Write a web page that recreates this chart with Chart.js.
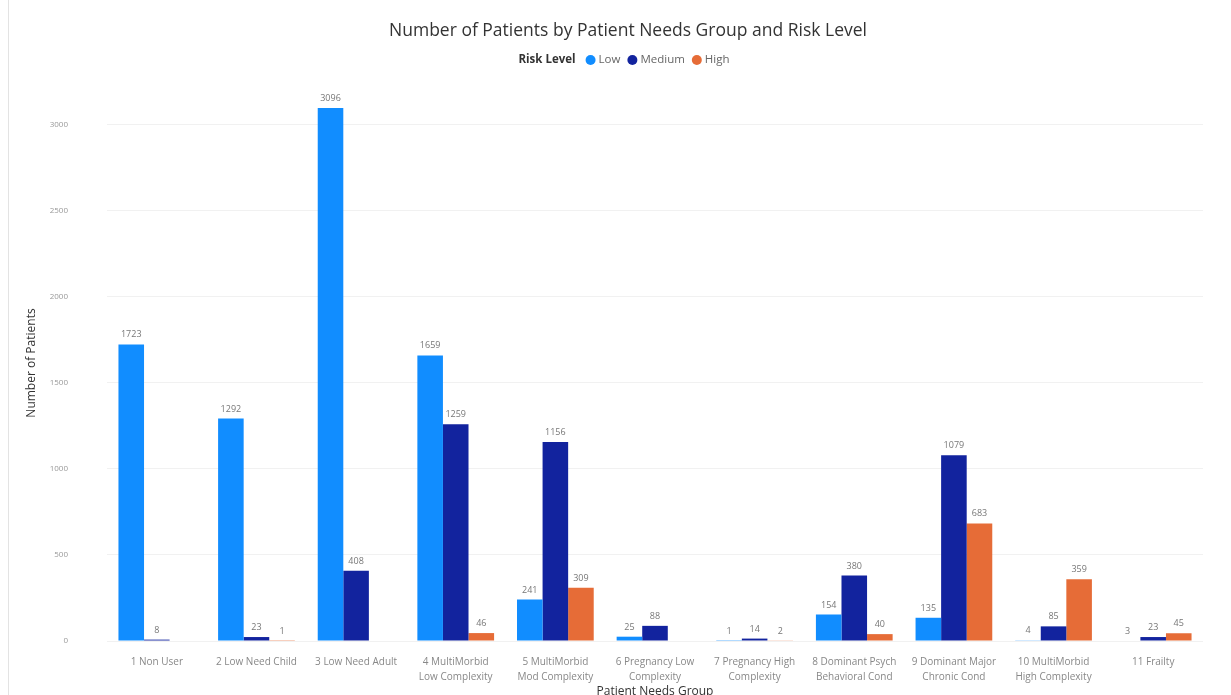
<!DOCTYPE html>
<html>
<head>
<meta charset="utf-8">
<script src="https://cdn.jsdelivr.net/npm/chart.js@4.4.1/dist/chart.umd.min.js"></script>
<style>
  body { margin: 0; background: #fff; }
  #wrap { position: relative; width: 1231px; height: 695px; }
  #edge { position: absolute; left: 8px; top: 0; width: 1px; height: 695px; background: #e3e3e3; }
</style>
</head>
<body>
<div id="wrap">
  <div id="edge"></div>
  <canvas id="myChart"></canvas>
</div>
<script>
// Patient needs groups (x axis), split on two lines like the original
const categories = [
    '1 Non User',
    '2 Low Need Child',
    '3 Low Need Adult',
    ['4 MultiMorbid', 'Low Complexity'],
    ['5 MultiMorbid', 'Mod Complexity'],
    ['6 Pregnancy Low', 'Complexity'],
    ['7 Pregnancy High', 'Complexity'],
    ['8 Dominant Psych', 'Behavioral Cond'],
    ['9 Dominant Major', 'Chronic Cond'],
    ['10 MultiMorbid', 'High Complexity'],
    '11 Frailty'
];

// Number of patients per risk level (null = no bar)
const lowValues    = [1723, 1292, 3096, 1659, 241, 25, 1, 154, 135, 4, 3];
const mediumValues = [8, 23, 408, 1259, 1156, 88, 14, 380, 1079, 85, 23];
const highValues   = [null, 1, null, 46, 309, null, 2, 40, 683, 359, 45];

const riskLevels = ['Low', 'Medium', 'High'];
const riskColors = ['#118DFF', '#12239E', '#E66C37'];

const yTicks = [0, 500, 1000, 1500, 2000, 2500, 3000];

const chartTitle = 'Number of Patients by Patient Needs Group and Risk Level';
const font = '"Open Sans", "Segoe UI", sans-serif';

// draws the number above each bar
const barLabels = {
    id: 'barLabels',
    afterDatasetsDraw(chart) {
        const ctx = chart.ctx;
        ctx.save();
        ctx.font = '9px ' + font;
        ctx.fillStyle = '#777';
        ctx.textAlign = 'center';
        ctx.textBaseline = 'bottom';
        chart.data.datasets.forEach((ds, i) => {
            chart.getDatasetMeta(i).data.forEach((bar, j) => {
                const v = ds.data[j];
                if (v === null || v === undefined) return;
                ctx.fillText(String(v), bar.x, bar.y - 5);
            });
        });
        ctx.restore();
    }
};

// title plus "Risk Level  ● Low ● Medium ● High" legend on one line
const header = {
    id: 'header',
    afterDraw(chart) {
        const ctx = chart.ctx;
        ctx.save();
        ctx.textBaseline = 'middle';
        ctx.textAlign = 'center';
        ctx.fillStyle = '#333';
        ctx.font = '17.5px ' + font;
        ctx.fillText(chartTitle, 628, 31);

        ctx.textAlign = 'left';
        const y = 60;
        const fs = '11.5px ' + font;
        ctx.font = 'bold ' + fs;
        const head = 'Risk Level';
        const headW = ctx.measureText(head).width;
        ctx.font = fs;
        const widths = riskLevels.map(t => ctx.measureText(t).width);
        const dot = 10, gap = 3, space = 7, headGap = 10;
        let total = headW + headGap;
        widths.forEach(w => total += dot + gap + w + space);
        total -= space;
        let x = 624 - total / 2;
        ctx.fillStyle = '#333';
        ctx.font = 'bold ' + fs;
        ctx.fillText(head, x, y);
        x += headW + headGap;
        ctx.font = fs;
        riskLevels.forEach((t, i) => {
            ctx.fillStyle = riskColors[i];
            ctx.beginPath();
            ctx.arc(x + dot / 2, y, dot / 2, 0, Math.PI * 2);
            ctx.fill();
            x += dot + gap;
            ctx.fillStyle = '#666';
            ctx.fillText(t, x, y);
            x += widths[i] + space;
        });
        ctx.restore();
    }
};

const ctx = document.getElementById('myChart').getContext('2d');

new Chart(ctx, {
    type: 'bar',
    data: {
        labels: categories,
        datasets: riskLevels.map((name, i) => ({
            label: name,
            data: [lowValues, mediumValues, highValues][i],
            backgroundColor: riskColors[i],
            categoryPercentage: 0.77,
            barPercentage: 1.0
        }))
    },
    options: {
        responsive: true,
        maintainAspectRatio: false,
        animation: false,
        layout: { padding: { left: 22, right: 28, top: 85, bottom: 0 } },
        plugins: {
            legend: { display: false },
            tooltip: { enabled: false }
        },
        scales: {
            y: {
                min: 0,
                max: 3230,
                border: { display: false },
                grid: { color: '#f1f1f1', drawTicks: false },
                afterBuildTicks: axis => {
                    axis.ticks = yTicks.map(v => ({ value: v }));
                },
                afterFit: axis => { axis.width = 85; },
                ticks: {
                    color: '#999',
                    padding: 39,
                    font: { family: font, size: 8 },
                    callback: v => String(v)
                },
                title: {
                    display: true,
                    text: 'Number of Patients',
                    color: '#333',
                    font: { family: font, size: 12 },
                    padding: { top: 2, bottom: 4 }
                }
            },
            x: {
                border: { display: false },
                grid: { display: false },
                afterFit: axis => { axis.height = 54; },
                ticks: {
                    color: '#888',
                    maxRotation: 0,
                    autoSkip: false,
                    padding: 6,
                    font: { family: font, size: 10, lineHeight: 1.5 }
                },
                title: {
                    display: true,
                    text: 'Patient Needs Group',
                    color: '#333',
                    font: { family: font, size: 12 },
                    padding: { top: 0, bottom: -4 }
                }
            }
        }
    },
    plugins: [barLabels, header]
});
</script>
</body>
</html>
